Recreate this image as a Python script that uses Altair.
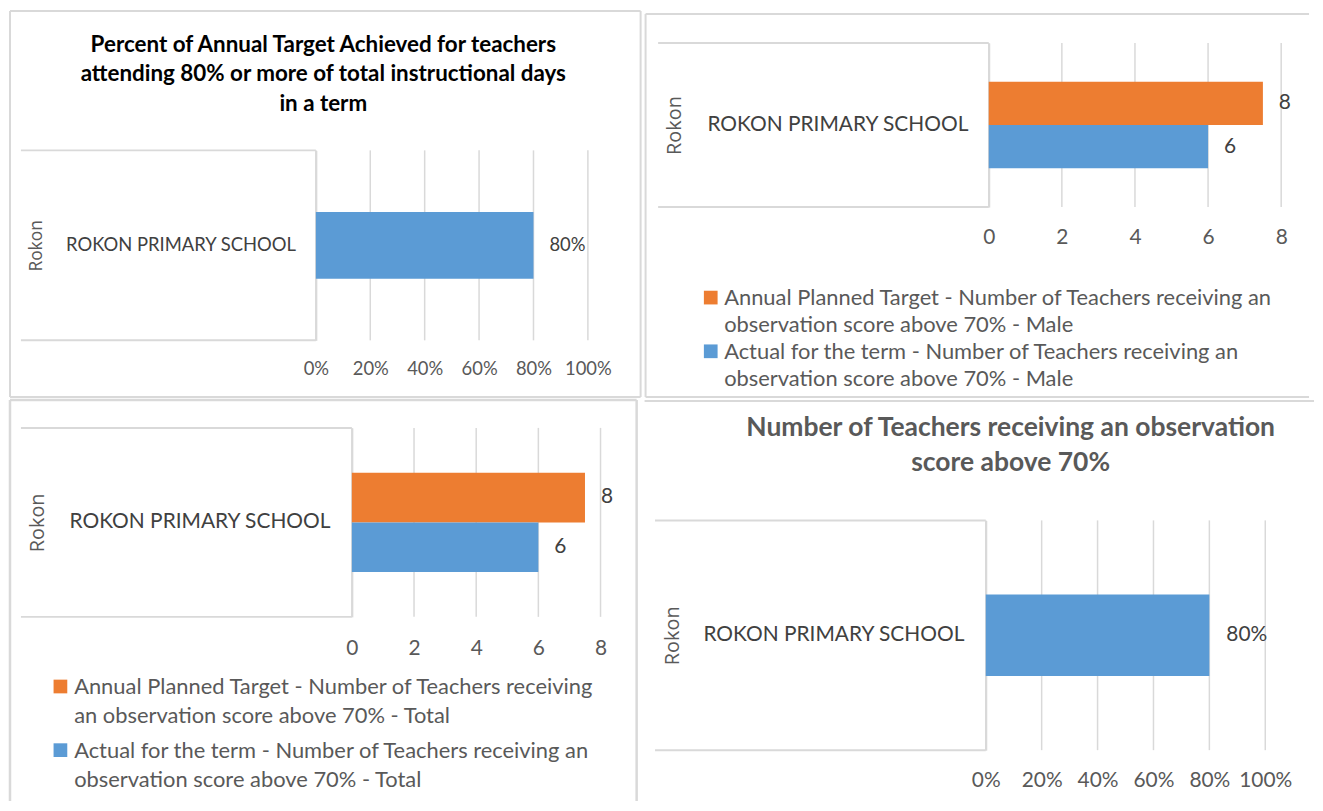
import altair as alt
import pandas as pd

FONT = "Lato"
BLUE = "#5B9BD5"
ORANGE = "#ED7D31"
GRID = "#D9D9D9"
TXT = "#595959"
DARK = "#404040"

# ---------------- data ----------------
SCHOOL = ["ROKON PRIMARY SCHOOL"]
REGION = "Rokon"
PCT_ATTENDANCE = [0.80]
PCT_OBSERVATION = [0.80]
SERIES_MALE = [
    "Annual Planned Target - Number of Teachers receiving an observation score above 70% - Male",
    "Actual for the term - Number of Teachers receiving an observation score above 70% - Male",
]
SERIES_TOTAL = [
    "Annual Planned Target - Number of Teachers receiving an observation score above 70% - Total",
    "Actual for the term - Number of Teachers receiving an observation score above 70% - Total",
]
VALUES_MALE = [7.5, 6]
VALUES_TOTAL = [7.5, 6]
SERIES_COLORS = [ORANGE, BLUE]
PCT_TICKS = [0, 0.2, 0.4, 0.6, 0.8, 1.0]
NUM_TICKS = [0, 2, 4, 6, 8]
TITLE_1 = ["Percent of Annual Target Achieved  for teachers",
           "attending 80% or more of total instructional days",
           "in a term"]
TITLE_4 = ["Number of Teachers receiving an observation",
           "score above 70%"]
LEGEND_MALE = [
    ["Annual Planned Target - Number of Teachers receiving an", "observation score above 70% - Male"],
    ["Actual for the term - Number of Teachers receiving an", "observation score above 70% - Male"],
]
LEGEND_TOTAL = [
    ["Annual Planned Target - Number of Teachers receiving", "an observation score above 70% - Total"],
    ["Actual for the term - Number of Teachers receiving an", "observation score above 70% - Total"],
]


def one():
    return alt.Chart(pd.DataFrame({"k": [0]}))


def border(x0, x1, y0, y1, sides, sw=2):
    layers = []
    if "t" in sides:
        layers.append(one().mark_rule(color=GRID, strokeWidth=sw).encode(
            x=alt.value(x0), x2=alt.value(x1), y=alt.value(y0)))
    if "b" in sides:
        layers.append(one().mark_rule(color=GRID, strokeWidth=sw).encode(
            x=alt.value(x0), x2=alt.value(x1), y=alt.value(y1)))
    if "l" in sides:
        layers.append(one().mark_rule(color=GRID, strokeWidth=sw).encode(
            x=alt.value(x0), y=alt.value(y0), y2=alt.value(y1)))
    if "r" in sides:
        layers.append(one().mark_rule(color=GRID, strokeWidth=sw).encode(
            x=alt.value(x1), y=alt.value(y0), y2=alt.value(y1)))
    return layers


def panel(W, H, values, series, colors, domain, ticks, tick_fmt, label_fmt,
          xr, yr, pad_outer, box_left, rokon_x, fs, label_pad, tick_pad, dx,
          title=None, legend=None, frame=None):
    axis_x, x_end = xr
    top, bottom = yr
    df = pd.DataFrame({"school": SCHOOL * len(values), "value": values, "series": series})
    xs = alt.Scale(domain=domain, range=[axis_x, x_end], nice=False, zero=True)
    ys = alt.Scale(domain=SCHOOL, range=[top, bottom], paddingInner=0, paddingOuter=pad_outer)
    cs = alt.Scale(domain=list(dict.fromkeys(series)), range=colors)
    os_ = alt.Scale(domain=list(series), paddingInner=0, paddingOuter=0)

    x_axis = alt.Axis(values=ticks, format=tick_fmt, grid=False, domain=False, ticks=False,
                      tickSize=0, labelPadding=tick_pad, labelBaseline="middle",
                      labelFlush=False, labelOverlap=False, labelFont=FONT, labelFontSize=fs,
                      labelColor=TXT, offset=bottom - H, title=None)
    y_axis = alt.Axis(grid=False, ticks=False, tickSize=0, domain=True, domainColor=GRID,
                      domainWidth=2, labelPadding=label_pad, labelFont=FONT, labelFontSize=fs,
                      labelColor=DARK, labelLimit=500, offset=-axis_x,
                      title=REGION, titleFont="Open Sans", titleFontSize=fs - 1,
                      titleFontWeight="normal", titleColor=TXT, titleAngle=270,
                      titleAlign="center", titleBaseline="middle",
                      titleX=rokon_x - axis_x, titleY=(top + bottom) / 2)

    grid_df = pd.DataFrame({"value": ticks})
    grid = alt.Chart(grid_df).mark_rule(color=GRID, strokeWidth=1.5).encode(
        x=alt.X("value:Q", scale=xs, axis=x_axis), y=alt.value(top), y2=alt.value(bottom))

    enc = dict(
        x=alt.X("value:Q", scale=xs, axis=x_axis),
        y=alt.Y("school:N", scale=ys, axis=y_axis),
        color=alt.Color("series:N", scale=cs, legend=None),
    )
    if len(values) > 1:
        enc["yOffset"] = alt.YOffset("series:N", scale=os_)
    bars = alt.Chart(df).mark_bar().encode(**enc)
    tenc = dict(
        x=alt.X("value:Q", scale=xs, axis=x_axis),
        y=alt.Y("school:N", scale=ys, axis=y_axis),
        text=alt.Text("value:Q", format=label_fmt),
    )
    if len(values) > 1:
        tenc["yOffset"] = alt.YOffset("series:N", scale=os_)
    labels = alt.Chart(df).mark_text(align="left", baseline="middle", dx=dx, font=FONT,
                                     fontSize=fs, color=DARK).encode(**tenc)

    box = [
        one().mark_rule(color=GRID, strokeWidth=2).encode(
            x=alt.value(box_left), x2=alt.value(axis_x), y=alt.value(top)),
        one().mark_rule(color=GRID, strokeWidth=2).encode(
            x=alt.value(box_left), x2=alt.value(axis_x), y=alt.value(bottom)),
    ]

    layers = [grid] + box + [bars, labels]

    if title is not None:
        tx, ty, tsize, tlh, tcolor, lines = title
        tdf = pd.DataFrame({"t": ["\n".join(lines)]})
        layers.append(alt.Chart(tdf).mark_text(
            font=FONT, fontSize=tsize, fontWeight="bold", color=tcolor, align="center",
            baseline="middle", lineBreak="\n", lineHeight=tlh).encode(
            text="t:N", x=alt.value(tx), y=alt.value(ty)))

    if legend is not None:
        sq_x, txt_x, ys_items, lsize, llh, items = legend
        for s, lines, yy in zip(series, items, ys_items):
            ldf = pd.DataFrame({"series": [s], "t": ["\n".join(lines)]})
            layers.append(alt.Chart(ldf).mark_square(size=190, opacity=1).encode(
                x=alt.value(sq_x), y=alt.value(yy),
                color=alt.Color("series:N", scale=cs, legend=None)))
            layers.append(alt.Chart(ldf).mark_text(
                font=FONT, fontSize=lsize, color=TXT, align="left", baseline="top",
                lineBreak="\n", lineHeight=llh).encode(
                text="t:N", x=alt.value(txt_x), y=alt.value(yy - 0.43 * lsize)))

    if frame is not None:
        layers += border(*frame)

    return alt.layer(*layers).properties(width=W, height=H)


p1 = panel(637, 390, PCT_ATTENDANCE, ["Percent"], [BLUE], [0, 1], PCT_TICKS, ".0%", ".0%",
           (308.5, 582), (141, 332), 0.925, 12, 28, 18.5, 20.5, 28, 16,
           title=(316, 35, 22.5, 29.5, "#000000", TITLE_1),
           frame=(1, 635, 1, 389, "tblr"))

p2 = panel(668, 390, VALUES_MALE, SERIES_MALE, SERIES_COLORS, [0, 8], NUM_TICKS, "d", ".0f",
           (346, 640), (33, 198), 0.448, 13.6, 30, 21, 21, 31, 16,
           legend=(66.5, 80, [289, 343], 22, 27, LEGEND_MALE),
           frame=(1, 668, 4, 389, "tlb"))

p3 = panel(632, 403, VALUES_TOTAL, SERIES_TOTAL, SERIES_COLORS, [0, 8], NUM_TICKS, "d", ".0f",
           (344.7, 594.7), (28, 218), 0.45, 12, 29, 21, 22, 32, 16,
           legend=(51.7, 65.5, [288, 352], 22, 29, LEGEND_TOTAL),
           frame=(1, 631, 0, 403, "tlr", 2.5))

p4 = panel(673, 403, PCT_OBSERVATION, ["Percent"], [BLUE], [0, 1], PCT_TICKS, ".0%", ".0%",
           (343, 624), (121, 352), 0.9085, 10.5, 28, 21, 22, 31, 17,
           title=(368, 28, 26.6, 35, TXT, TITLE_4),
           frame=(0, 673, 1, 403, "t"))

chart = alt.concat(p1, p2, p3, p4, columns=2, align="none", bounds="flush", spacing=2
                   ).resolve_scale(color="independent", yOffset="independent"
                   ).properties(padding=0).configure_view(strokeWidth=0)

chart.save("out.html", embed_options={"renderer": "svg", "actions": False})
